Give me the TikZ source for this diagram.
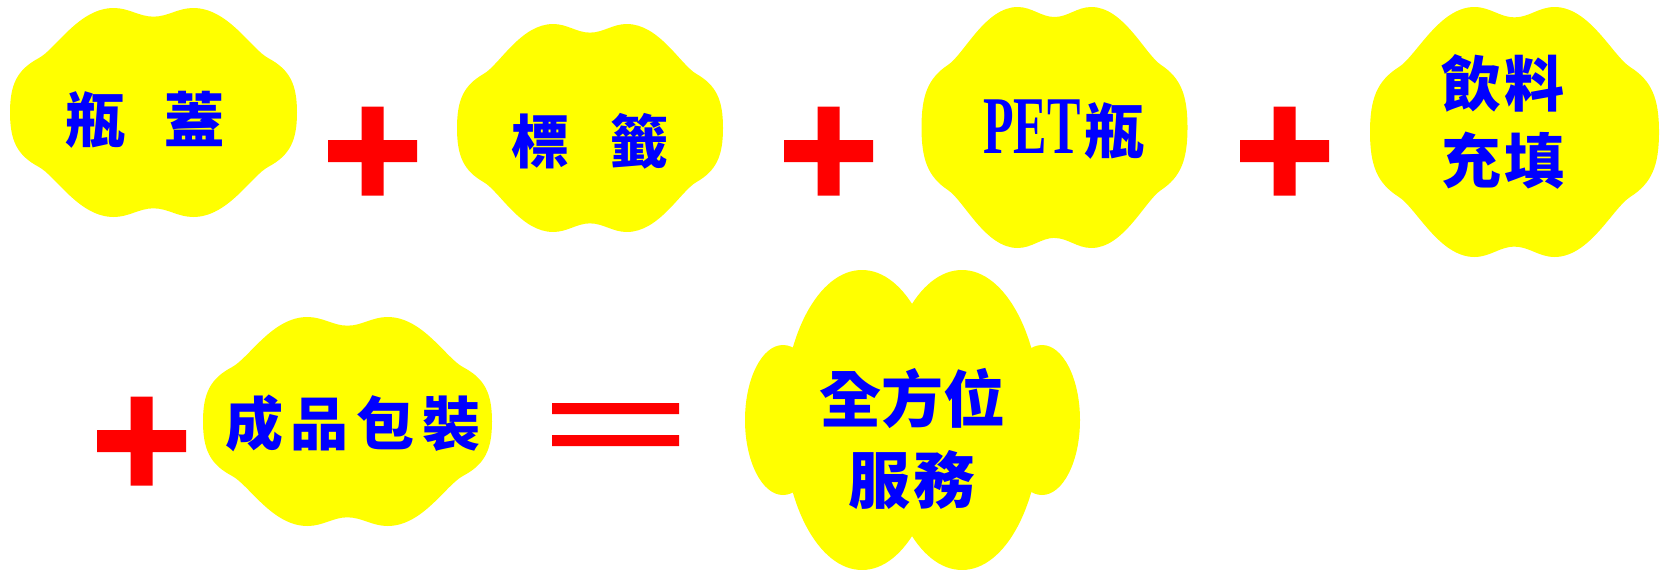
\documentclass[tikz,border=0pt]{standalone}
\usepackage{fontspec}
\usepackage{graphicx}
\newfontfamily\cjk{Noto Sans CJK TC}
\newfontfamily\latinserif{Liberation Serif}
\definecolor{cloudyellow}{RGB}{255,255,0}
\definecolor{signred}{RGB}{255,0,0}
\definecolor{textblue}{RGB}{0,0,255}
\newcommand\wavecloud[4]{\path[fill=cloudyellow,shift={(#1,#2)},xscale=#3,yscale=#4] (0,.917) .. controls (.1,.917) and (.17,1) .. (.277,1) .. controls (.52,1) and (.68,.608) .. (.8,.52) .. controls (.95,.41) and (1,.27) .. (1,0) .. controls (1,-.27) and (.95,-.41) .. (.8,-.52) .. controls (.68,-.608) and (.52,-1) .. (.277,-1) .. controls (.17,-1) and (.1,-.917) .. (0,-.917) .. controls (-.1,-.917) and (-.17,-1) .. (-.277,-1) .. controls (-.52,-1) and (-.68,-.608) .. (-.8,-.52) .. controls (-.95,-.41) and (-1,-.27) .. (-1,0) .. controls (-1,.27) and (-.95,.41) .. (-.8,.52) .. controls (-.68,.608) and (-.52,1) .. (-.277,1) .. controls (-.17,1) and (-.1,.917) .. cycle;}
\newcommand\plusmark[2]{\path[fill=signred] (#1-44.5,#2-11) rectangle (#1+44.5,#2+11) (#1-11,#2-44.5) rectangle (#1+11,#2+44.5);}
\tikzset{lbl/.style={text=textblue,inner sep=0pt,font=\cjk\bfseries\fontsize{60}{60}\selectfont}}
\begin{document}
\begin{tikzpicture}[x=1pt,y=-1pt]
  \useasboundingbox (0,0) rectangle (1665,570);
  \wavecloud{153.5}{112.5}{143.5}{104.5}
  \wavecloud{590}{128}{133}{104}
  \wavecloud{1054.5}{127.5}{133}{120.5}
  \wavecloud{1514.5}{132}{144.5}{125}
  \wavecloud{347.5}{421.5}{144.5}{104.5}
  \path[fill=cloudyellow] (862,420) ellipse[x radius=79,y radius=150] (962,420) ellipse[x radius=79,y radius=150] (783,420) ellipse[x radius=38,y radius=75] (1042,420) ellipse[x radius=38,y radius=75];
  \plusmark{372.5}{151}
  \plusmark{828.5}{151}
  \plusmark{1284.5}{151}
  \plusmark{141.5}{441}
  \path[fill=signred] (552,403) rectangle (679,414) (552,435) rectangle (679,446);
  \node[lbl] (cap) at (145,120) {瓶\hspace{40pt}蓋};
  \node[lbl,font=\cjk\bfseries\fontsize{58}{58}\selectfont] (label) at (590,141) {標\hspace{41pt}籤};
  \node[lbl] (bottle) at (1064,130) {\scalebox{.61}[1]{\latinserif\fontsize{82}{82}\selectfont PET}\hspace{4pt}瓶};
  \node[lbl,align=center,font=\cjk\bfseries\fontsize{60}{77}\selectfont] (drink) at (1503,121.5) {飲\hspace{3pt}料\\充\hspace{3pt}填};
  \node[lbl,font=\cjk\bfseries\fontsize{58}{58}\selectfont] (pack) at (353,423) {成\hspace{8pt}品\hspace{8pt}包\hspace{8pt}裝};
  \node[lbl,align=center,font=\cjk\bfseries\fontsize{62}{81}\selectfont] (service) at (912,438.5) {全方位\\服\hspace{3pt}務};
\end{tikzpicture}
\end{document}
